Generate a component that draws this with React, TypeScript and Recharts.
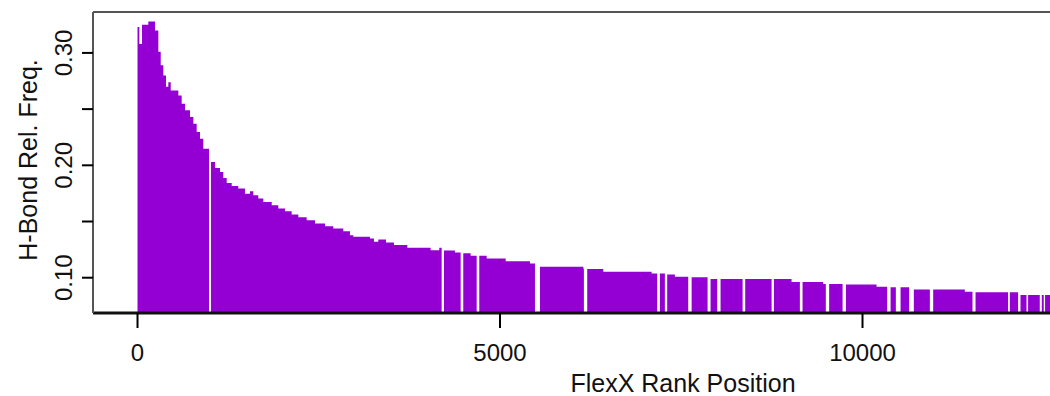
import React from "react";
import {
  AreaChart,
  Area,
  XAxis,
  YAxis,
  ReferenceLine,
  Label,
} from "recharts";

// step starts (FlexX rank) and the H-bond relative frequency from that rank on
const STEP_RANK = [
  0, 25, 62, 149, 241, 287, 320, 356, 393, 425, 458, 563, 609, 655, 724, 770,
  816, 862, 907, 1000, 1069, 1138, 1183, 1230, 1299, 1390, 1482, 1551, 1597,
  1666, 1735, 1851, 1942, 2034, 2126, 2218, 2333, 2448, 2586, 2700, 2838, 2930,
  2976, 3206, 3261, 3321, 3427, 3537, 3721, 4043, 4162, 4210, 4378, 4475, 4595,
  4816, 5078, 5413, 5520, 6148, 6180, 6424, 7091, 7290, 7412, 7620, 7880, 9021,
  9457, 9750, 10193, 10360, 10680, 11411, 11540, 12160,
];
const STEP_FREQ = [
  0.323, 0.308, 0.325, 0.328, 0.32, 0.301, 0.289, 0.28, 0.27, 0.274, 0.2665,
  0.262, 0.2547, 0.249, 0.243, 0.237, 0.2296, 0.2237, 0.2148, 0.203, 0.1977,
  0.194, 0.1888, 0.1843, 0.1817, 0.1793, 0.1748, 0.1769, 0.1733, 0.1704,
  0.1674, 0.1645, 0.1615, 0.1591, 0.1562, 0.1538, 0.1511, 0.1482, 0.1458,
  0.1438, 0.1414, 0.1378, 0.1364, 0.1349, 0.132, 0.134, 0.1313, 0.129, 0.1267,
  0.1245, 0.1267, 0.1242, 0.1225, 0.1218, 0.1195, 0.1171, 0.1147, 0.1127,
  0.1098, 0.1083, 0.1077, 0.1053, 0.1038, 0.1029, 0.1009, 0.1003, 0.0988,
  0.0961, 0.0943, 0.094, 0.092, 0.0914, 0.0896, 0.0876, 0.087, 0.0846,
];
// rank ranges with no entries
const GAP_START = [
  986, 4195, 4457, 4678, 5482, 6157, 7168, 7274, 7596, 7863, 7996, 8346, 8746,
  9136, 9494, 9725, 10340, 10460, 10643, 10929, 11517, 12008, 12146, 12262,
  12445, 12500,
];
const GAP_END = [
  1014, 4227, 4493, 4714, 5551, 6203, 7205, 7306, 7643, 7904, 8042, 8382, 8778,
  9173, 9540, 9771, 10387, 10525, 10708, 10975, 11559, 12032, 12179, 12284,
  12473, 12518,
];
const LAST_RANK = 12700;

const X_TICKS = [0, 5000, 10000];
const Y_TICKS = [0.1, 0.15, 0.2, 0.25, 0.3];
const Y_LABELS = ["0.10", "", "0.20", "", "0.30"];

const X_DOMAIN: [number, number] = [-614, 15662];
const Y_DOMAIN: [number, number] = [0.0686, 0.3364];

const PURPLE = "#9400d3";
const FONT = "'Liberation Sans', Arial, Helvetica, sans-serif";

function buildData() {
  const pts = Array.from(
    new Set([...STEP_RANK, ...GAP_START, ...GAP_END, LAST_RANK])
  ).sort((a, b) => a - b);
  return pts.map((rank) => {
    const inGap = GAP_START.some((s, i) => rank >= s && rank < GAP_END[i]);
    let idx = 0;
    for (let i = 0; i < STEP_RANK.length; i++) if (STEP_RANK[i] <= rank) idx = i;
    return { rank, freq: inGap ? 0 : STEP_FREQ[idx] };
  });
}

const data = buildData();

function YTick(props: any) {
  const { x, y, index } = props;
  const label = Y_LABELS[index];
  if (!label) return null;
  const bx = x - 8;
  return (
    <text
      x={bx}
      y={y}
      transform={`rotate(-90, ${bx}, ${y})`}
      textAnchor="middle"
      fontSize={24}
      fontFamily={FONT}
      fill="#111"
    >
      {label}
    </text>
  );
}

function XTick(props: any) {
  const { x, y, payload } = props;
  return (
    <text x={x} y={y + 31} textAnchor="middle" fontSize={24} fontFamily={FONT} fill="#111">
      {payload.value}
    </text>
  );
}

export default function App() {
  return (
    <div
      style={{
        position: "absolute",
        left: 0,
        top: 0,
        width: 1050,
        height: 396,
        overflow: "hidden",
        background: "#fff",
      }}
    >
      <AreaChart
        width={1273}
        height={396}
        data={data}
        margin={{ top: 12, right: 0, left: 0, bottom: 0 }}
      >
        <XAxis
          dataKey="rank"
          type="number"
          domain={X_DOMAIN}
          allowDataOverflow
          ticks={X_TICKS}
          interval={0}
          height={83}
          tickSize={15}
          tick={<XTick />}
          tickLine={{ stroke: "#000", strokeWidth: 2 }}
          axisLine={{ stroke: "#111", strokeWidth: 3 }}
        >
          <Label
            content={({ viewBox }: any) => (
              <text
                x={viewBox.x + viewBox.width / 2}
                y={392}
                textAnchor="middle"
                fontSize={25}
                fontFamily={FONT}
                fill="#111"
              >
                FlexX Rank Position
              </text>
            )}
          />
        </XAxis>
        <YAxis
          type="number"
          domain={Y_DOMAIN}
          allowDataOverflow
          ticks={Y_TICKS}
          interval={0}
          width={93}
          tickSize={11}
          tick={<YTick />}
          tickLine={{ stroke: "#000", strokeWidth: 2 }}
          axisLine={{ stroke: "#555", strokeWidth: 2 }}
        >
          <Label
            content={({ viewBox }: any) => {
              const cx = 37;
              const cy = 160;
              return (
                <text
                  x={cx}
                  y={cy}
                  transform={`rotate(-90, ${cx}, ${cy})`}
                  textAnchor="middle"
                  fontSize={25}
                  fontFamily={FONT}
                  fill="#111"
                >
                  H-Bond Rel. Freq.
                </text>
              );
            }}
          />
        </YAxis>
        <Area
          type="stepAfter"
          dataKey="freq"
          baseValue={0}
          stroke="none"
          fill={PURPLE}
          fillOpacity={1}
          isAnimationActive={false}
          dot={false}
          activeDot={false}
        />
        <ReferenceLine
          y={Y_DOMAIN[1]}
          stroke="#555"
          strokeWidth={2}
          ifOverflow="visible"
        />
      </AreaChart>
    </div>
  );
}
